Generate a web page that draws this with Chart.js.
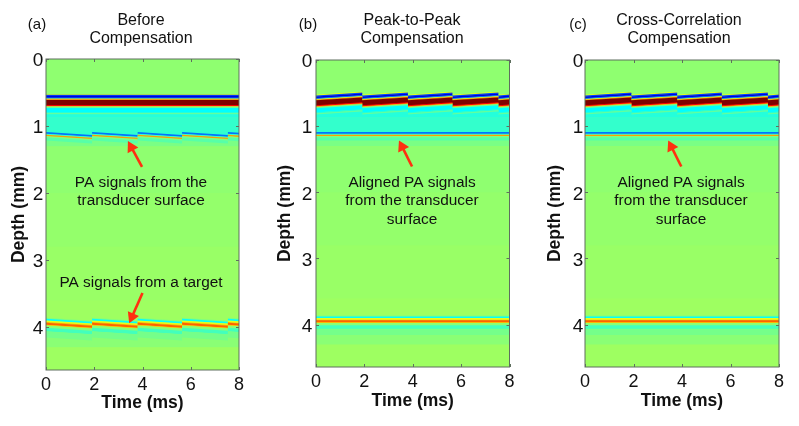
<!DOCTYPE html>
<html>
<head>
<meta charset="utf-8">
<style>
html, body { margin: 0; background: #fff; }
canvas { position: absolute; top: 0; }
</style>
<script src="https://cdn.jsdelivr.net/npm/chart.js@4"></script>
</head>
<body>
<canvas id="pa" width="266" height="426" style="left:0"></canvas>
<canvas id="pb" width="270" height="426" style="left:266px"></canvas>
<canvas id="pc" width="263" height="426" style="left:536px"></canvas>
<script>
// time segments between resets (ms)
const segStart = [0, 1.91, 3.8, 5.64, 7.54];
const segEnd = [1.91, 3.8, 5.64, 7.54, 8];
// depth drift over each segment (mm)
const driftDown = [0.045, 0.045, 0.045, 0.045, 0.012];
const driftUp = [-0.045, -0.045, -0.045, -0.045, -0.012];
const noDrift = [0, 0, 0, 0, 0];

// background and decay, depth in mm, level 0..1 on the jet scale
const baseTop = [0, 0.79, 0.86, 1.15, 1.2, 1.3, 2.0, 2.8, 3.6, 4.15, 4.3];
const baseBottom = [4.7, 0.86, 1.15, 1.2, 1.3, 2.0, 2.8, 3.6, 4.15, 4.3, 4.7];
const baseLevel = [0.515, 0.41, 0.425, 0.46, 0.495, 0.515, 0.52, 0.525, 0.53, 0.51, 0.53];

// strong band near 0.6 mm
const strongTop = [0.525, 0.535, 0.55, 0.575, 0.59, 0.6, 0.61, 0.685, 0.7, 0.71, 0.73, 0.79, 0.805, 0.825];
const strongBottom = [0.535, 0.55, 0.575, 0.59, 0.6, 0.61, 0.685, 0.7, 0.71, 0.73, 0.79, 0.805, 0.825, 0.86];
const strongLevel = [0.62, 0.2, 0.09, 0.24, 0.6, 0.75, 1, 0.88, 0.7, 0.48, 0.375, 0.41, 0.47, 0.41];

// signal from the transducer surface
const surfaceTop = [1.07, 1.09, 1.115, 1.13, 1.15, 1.17];
const surfaceBottom = [1.09, 1.115, 1.13, 1.15, 1.17, 1.21];
const surfaceLevel = [0.42, 0.24, 0.43, 0.72, 0.5, 0.46];

// signal from the target
const targetTop = [3.86, 3.875, 3.9, 3.925, 3.935, 3.965, 3.975, 4.01, 4.06];
const targetBottom = [3.875, 3.9, 3.925, 3.935, 3.965, 3.975, 4.01, 4.06, 4.15];
const targetLevel = [0.5, 0.38, 0.6, 0.7, 0.78, 0.68, 0.51, 0.44, 0.49];

const xTicks = [0, 2, 4, 6, 8];
const depthMax = 4.64;

function jet(v) {
  const c = (x) => Math.round(255 * Math.max(0, Math.min(1, 1.5 - Math.abs(4 * v - x))));
  return `rgb(${c(3)},${c(2)},${c(1)})`;
}

// closed outline of one row, following the drift of each segment
function bandDataset(top, bottom, level, drift) {
  const upper = [], lower = [];
  segStart.forEach((s, i) => {
    upper.push({ x: s, y: top }, { x: segEnd[i], y: top + drift[i] });
    lower.push({ x: s, y: bottom + 0.005 }, { x: segEnd[i], y: bottom + drift[i] + 0.005 });
  });
  return {
    data: upper.concat(lower.reverse()),
    fill: "shape",
    backgroundColor: jet(level),
    borderWidth: 0,
    pointRadius: 0,
    tension: 0,
  };
}

function bands(tops, bottoms, levels, drift) {
  return tops.map((t, i) => bandDataset(t, bottoms[i], levels[i], drift));
}

function arrowDataset(tail, tip) {
  return {
    data: [{ x: tail[0], y: tail[1] }, { x: tip[0], y: tip[1] }],
    borderColor: "#ff3010",
    borderWidth: 2.6,
    backgroundColor: "#ff3010",
    pointBackgroundColor: "#ff3010",
    pointBorderWidth: 0,
    pointStyle: "triangle",
    pointRadius: [0, 7],
    rotation: (ctx) => {
      const { x, y } = ctx.chart.scales;
      const dx = x.getPixelForValue(tip[0]) - x.getPixelForValue(tail[0]);
      const dy = y.getPixelForValue(tip[1]) - y.getPixelForValue(tail[1]);
      return (Math.atan2(dx, -dy) * 180) / Math.PI;
    },
  };
}

// inward ticks and the box round the image
const framePlugin = {
  id: "frame",
  afterDraw(chart) {
    const { ctx, chartArea: a, scales } = chart;
    ctx.save();
    ctx.strokeStyle = "#5f6f5f";
    ctx.lineWidth = 1;
    ctx.strokeRect(a.left, a.top, a.right - a.left, a.bottom - a.top);
    ctx.beginPath();
    scales.x.ticks.forEach((t) => {
      const p = Math.round(scales.x.getPixelForValue(t.value)) + 0.5;
      ctx.moveTo(p, a.top); ctx.lineTo(p, a.top + 3);
      ctx.moveTo(p, a.bottom); ctx.lineTo(p, a.bottom - 3);
    });
    scales.y.ticks.forEach((t) => {
      const p = Math.round(scales.y.getPixelForValue(t.value)) + 0.5;
      ctx.moveTo(a.left, p); ctx.lineTo(a.left + 3, p);
      ctx.moveTo(a.right, p); ctx.lineTo(a.right - 3, p);
    });
    ctx.stroke();
    ctx.restore();
  },
};

// titles and notes
const textPlugin = {
  id: "notes",
  afterDraw(chart, args, opts) {
    const { ctx } = chart;
    ctx.save();
    ctx.fillStyle = "#111";
    ctx.textAlign = "center";
    ctx.textBaseline = "middle";
    opts.items.forEach((t) => {
      ctx.font = `${t[3] || 15.4}px "Liberation Sans"`;
      ctx.fillText(t[0], t[1], t[2]);
    });
    ctx.restore();
  },
};

function panel(id, opt) {
  const datasets = [
    ...bands(baseTop, baseBottom, baseLevel, noDrift),
    ...bands(strongTop, strongBottom, strongLevel, opt.strongDrift),
    ...bands(surfaceTop, surfaceBottom, surfaceLevel, opt.lowDrift),
    ...bands(targetTop, targetBottom, targetLevel, opt.lowDrift),
    ...opt.arrows.map((a) => arrowDataset(a[0], a[1])),
  ];
  datasets.forEach((d, i) => (d.order = datasets.length - i));
  new Chart(document.getElementById(id), {
    type: "line",
    data: { datasets },
    plugins: [framePlugin, textPlugin],
    options: {
      responsive: false,
      animation: false,
      events: [],
      layout: { padding: { top: opt.top, left: 0, right: opt.right, bottom: 0 } },
      plugins: {
        legend: { display: false },
        tooltip: { enabled: false },
        notes: { items: opt.text },
      },
      scales: {
        x: {
          type: "linear",
          min: 0,
          max: 8,
          afterFit(s) {
            s.height = 426 - opt.bottom;
            s.paddingLeft = 0;
            s.paddingRight = 0;
          },
          afterBuildTicks(s) {
            s.ticks = xTicks.map((value) => ({ value }));
          },
          grid: { display: false },
          border: { display: false },
          ticks: {
            maxRotation: 0,
            autoSkip: false,
            color: "#111",
            padding: -4,
            font: { family: "Liberation Sans", size: 18 },
          },
          title: {
            display: true,
            text: "Time (ms)",
            color: "#111",
            padding: { top: 0, bottom: opt.xTitlePad },
            font: { family: "Liberation Sans", size: 17.5, weight: "bold" },
          },
        },
        y: {
          reverse: true,
          min: 0,
          max: depthMax,
          afterFit(s) {
            s.width = opt.left;
            s.paddingTop = 0;
            s.paddingBottom = 0;
          },
          grid: { display: false },
          border: { display: false },
          ticks: {
            stepSize: 1,
            includeBounds: false,
            color: "#111",
            padding: opt.yTickPad,
            labelOffset: 2,
            font: { family: "Liberation Sans", size: 19 },
          },
          title: {
            display: true,
            text: "Depth (mm)",
            color: "#111",
            padding: { top: 9, bottom: 0 },
            font: { family: "Liberation Sans", size: 17.5, weight: "bold" },
          },
        },
      },
    },
  });
}

panel("pa", {
  top: 59, bottom: 370, left: 46, right: 27, xTitlePad: 12, yTickPad: -5.3,
  strongDrift: noDrift, lowDrift: driftDown,
  arrows: [[[3.98, 1.61], [3.535, 1.316]], [[4.0, 3.49], [3.565, 3.846]]],
  text: [
    ["(a)", 37, 25, 15], ["Before", 141, 21, 16], ["Compensation", 141, 39, 16],
    ["PA signals from the", 141, 183], ["transducer surface", 141, 201],
    ["PA signals from a target", 141, 283],
  ],
});
panel("pb", {
  top: 60, bottom: 367, left: 50, right: 26.5, xTitlePad: 14, yTickPad: -4.3,
  strongDrift: driftUp, lowDrift: noDrift,
  arrows: [[[3.97, 1.61], [3.56, 1.31]]],
  text: [
    ["(b)", 42, 25, 15], ["Peak-to-Peak", 146, 21, 16], ["Compensation", 146, 39, 16],
    ["Aligned PA signals", 146, 183], ["from the transducer", 146, 201], ["surface", 146, 220],
  ],
});
panel("pc", {
  top: 60, bottom: 367, left: 49, right: 20, xTitlePad: 14, yTickPad: -6.3,
  strongDrift: driftUp, lowDrift: noDrift,
  arrows: [[[3.97, 1.61], [3.56, 1.31]]],
  text: [
    ["(c)", 42, 25, 15], ["Cross-Correlation", 143, 21, 16], ["Compensation", 143, 39, 16],
    ["Aligned PA signals", 145, 183], ["from the transducer", 145, 201], ["surface", 145, 220],
  ],
});
</script>
</body>
</html>
